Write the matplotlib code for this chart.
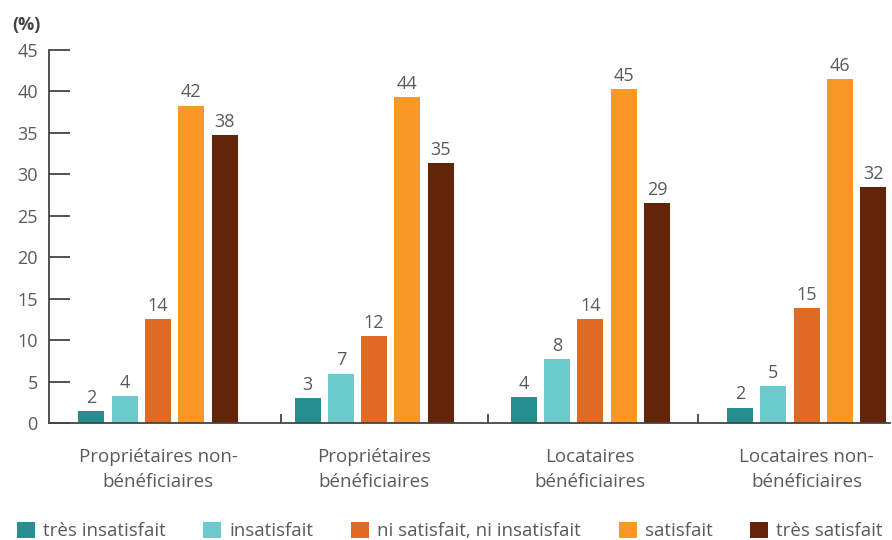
import numpy as np
import matplotlib
matplotlib.use("Agg")
import matplotlib.pyplot as plt

plt.rcParams['font.family'] = ['Open Sans', 'DejaVu Sans']

# group labels on the x axis
groups = ["Propriétaires non-\nbénéficiaires", "Propriétaires\nbénéficiaires",
          "Locataires\nbénéficiaires", "Locataires non-\nbénéficiaires"]

levels = ["très insatisfait", "insatisfait", "ni satisfait, ni insatisfait",
          "satisfait", "très satisfait"]

# bar heights as drawn in the picture
tres_insatisfait = [1.5, 3.0, 3.2, 1.9]
insatisfait = [3.3, 6.0, 7.7, 4.5]
ni_ni = [12.6, 10.5, 12.6, 13.9]
satisfait = [38.3, 39.3, 40.3, 41.5]
tres_satisfait = [34.7, 31.4, 26.5, 28.5]

# printed values above the bars
lab_tres_insatisfait = [2, 3, 4, 2]
lab_insatisfait = [4, 7, 8, 5]
lab_ni_ni = [14, 12, 14, 15]
lab_satisfait = [42, 44, 45, 46]
lab_tres_satisfait = [38, 35, 29, 32]

colors = ["#258f8f", "#6bcacb", "#e06c24", "#fb9726", "#62250a"]
text_grey = "#5a5a5a"

heights = [tres_insatisfait, insatisfait, ni_ni, satisfait, tres_satisfait]
labels = [lab_tres_insatisfait, lab_insatisfait, lab_ni_ni, lab_satisfait,
          lab_tres_satisfait]

fig = plt.figure(figsize=(8.92, 5.4), dpi=100)
ax = fig.add_axes((0.0549, 0.2161, 0.9429, 0.6913))

x = np.arange(len(groups))
step = 0.154
bar_w = 0.12
for k in range(len(levels)):
    pos = x + (k - 2) * step
    bars = ax.bar(pos, heights[k], width=bar_w, color=colors[k],
                  label=levels[k])
    for b, lab in zip(bars, labels[k]):
        ax.text(b.get_x() + b.get_width() / 2, b.get_height() + 0.5,
                str(lab), ha='center', va='bottom', fontsize=13,
                color=text_grey)

ax.set_xlim(-0.504, 3.386)
ax.set_ylim(0, 45)
ax.set_yticks(np.arange(0, 46, 5))
ax.set_xticks(x)
ax.set_xticklabels(groups, linespacing=1.45)
ax.set_xticks([0.567, 1.525, 2.497], minor=True)

for side in ['top', 'right']:
    ax.spines[side].set_visible(False)
for side in ['left', 'bottom']:
    ax.spines[side].set_color("#444444")
    ax.spines[side].set_linewidth(1.3)

ax.tick_params(axis='y', direction='in', length=15, width=1.2,
               color="#333333", labelsize=13, labelcolor=text_grey, pad=8)
ax.tick_params(axis='x', which='major', length=0, labelsize=13.5,
               labelcolor=text_grey, pad=18)
ax.tick_params(axis='x', which='minor', direction='in', length=6.5,
               width=1.2, color="#333333")

fig.text(0.014, 0.953, "(%)", fontsize=13, fontweight='bold',
         color="#444444", va='center')

fig.legend(loc='center left', bbox_to_anchor=(0.019, 0.017), ncol=5,
           frameon=False, fontsize=13.5, handlelength=0.95,
           handleheight=0.95, handletextpad=0.45, columnspacing=2.0,
           borderpad=0, borderaxespad=0, labelcolor=text_grey)

fig.savefig("out.png", dpi=100)
